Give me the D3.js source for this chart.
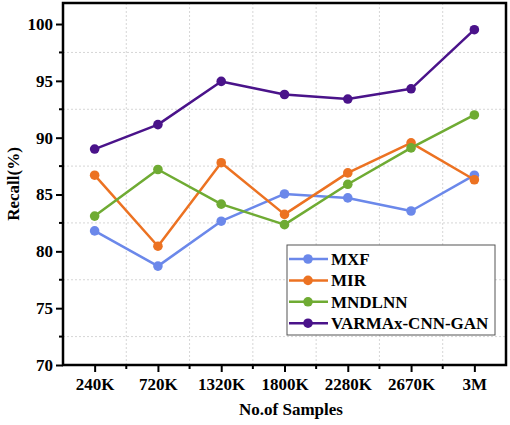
<!DOCTYPE html>
<html><head><meta charset="utf-8">
<script src="https://cdn.jsdelivr.net/npm/d3@7"></script>
<style>body{margin:0;background:#fff}svg{display:block}text{font-family:"Liberation Serif","Times New Roman",serif;font-weight:bold}</style>
</head><body><svg id="c" width="510" height="425"></svg>
<script>
const categories = ["240K","720K","1320K","1800K","2280K","2670K","3M"];
const seriesNames = ["MXF","MIR","MNDLNN","VARMAx-CNN-GAN"];
const mxf = [81.8, 78.7, 82.65, 85.05, 84.7, 83.55, 86.7];
const mir = [86.7, 80.45, 87.8, 83.25, 86.9, 89.55, 86.3];
const mndlnn = [83.1, 87.2, 84.15, 82.35, 85.9, 89.1, 92.0];
const varmax = [89.0, 91.15, 94.95, 93.8, 93.4, 94.3, 99.5];
const yTicks = [70, 75, 80, 85, 90, 95, 100];
const colors = ["#6b88ea", "#ec7222", "#6fab33", "#4a138a"];

const series = [mxf, mir, mndlnn, varmax];
const svg = d3.select("#c");
const L = 63, R = 506, T = 3, B = 365;
const x = d3.scalePoint().domain(categories).range([L, R]).padding(0.5);
const y = d3.scaleLinear().domain([70, 101.85]).range([B, T]);
const step = x.step();
const FS = 17;

// gridlines at minor positions
const minorY = yTicks.map(v => v + 2.5).filter(v => v < 101.85);
svg.append("g").selectAll("line").data(minorY).join("line")
  .attr("x1", L).attr("x2", R).attr("y1", d => y(d)).attr("y2", d => y(d))
  .attr("stroke", "#d6d6d6").attr("stroke-width", 1).attr("stroke-dasharray", "2,2");
const minorX = categories.slice(0, -1).map(c => x(c) + step / 2);
svg.append("g").selectAll("line").data(minorX).join("line")
  .attr("y1", T).attr("y2", B).attr("x1", d => d).attr("x2", d => d)
  .attr("stroke", "#d6d6d6").attr("stroke-width", 1).attr("stroke-dasharray", "2,2");

// lines and markers
const line = d3.line().x((d, i) => x(categories[i])).y(d => y(d));
series.forEach((s, k) => {
  svg.append("path").datum(s).attr("d", line).attr("fill", "none")
    .attr("stroke", colors[k]).attr("stroke-width", 2.5).attr("stroke-linejoin", "round");
  svg.append("g").selectAll("circle").data(s).join("circle")
    .attr("cx", (d, i) => x(categories[i])).attr("cy", d => y(d)).attr("r", 4.8)
    .attr("fill", colors[k]);
});

// axes
const yAxis = d3.axisLeft(y).tickValues(yTicks).tickSize(7).tickPadding(3);
const gy = svg.append("g").attr("transform", `translate(${L},0)`).call(yAxis);
const xAxis = d3.axisBottom(x).tickSize(7).tickPadding(6);
const gx = svg.append("g").attr("transform", `translate(0,${B})`).call(xAxis);
[gx, gy].forEach(g => {
  g.select(".domain").remove();
  g.selectAll(".tick line").attr("stroke", "#000").attr("stroke-width", 2);
  g.selectAll(".tick text").attr("font-size", FS).attr("fill", "#000")
    .attr("font-family", "Liberation Serif, serif").attr("font-weight", "bold");
});
// minor ticks
svg.append("g").selectAll("line").data(minorY).join("line")
  .attr("x1", L - 4).attr("x2", L).attr("y1", d => y(d)).attr("y2", d => y(d))
  .attr("stroke", "#000").attr("stroke-width", 2);
svg.append("g").selectAll("line").data(minorX).join("line")
  .attr("y1", B).attr("y2", B + 4).attr("x1", d => d).attr("x2", d => d)
  .attr("stroke", "#000").attr("stroke-width", 2);
// frame
svg.append("rect").attr("x", L).attr("y", T).attr("width", R - L).attr("height", B - T)
  .attr("fill", "none").attr("stroke", "#000").attr("stroke-width", 2.5);

// axis titles
svg.append("text").attr("x", 291).attr("y", 415).attr("text-anchor", "middle")
  .attr("font-size", FS).text("No.of Samples");
svg.append("text").attr("transform", `translate(19,${(T + B) / 2}) rotate(-90)`)
  .attr("text-anchor", "middle").attr("font-size", FS).text("Recall(%)");

// legend
const lg = svg.append("g");
lg.append("rect").attr("x", 287).attr("y", 245).attr("width", 208).attr("height", 90)
  .attr("fill", "#fff").attr("stroke", "#555").attr("stroke-width", 1);
seriesNames.forEach((n, k) => {
  const cy = 259 + k * 21.4;
  lg.append("line").attr("x1", 289).attr("x2", 328).attr("y1", cy).attr("y2", cy)
    .attr("stroke", colors[k]).attr("stroke-width", 2.5);
  lg.append("circle").attr("cx", 308).attr("cy", cy).attr("r", 4.8).attr("fill", colors[k]);
  lg.append("text").attr("x", 331).attr("y", cy + 6).attr("font-size", FS).text(n);
});
</script></body></html>
